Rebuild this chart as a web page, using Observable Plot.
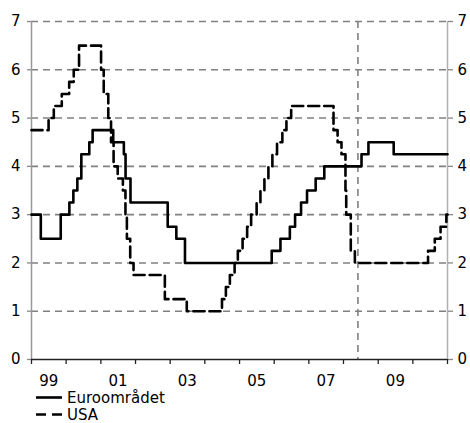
<!DOCTYPE html>
<html>
<head>
<meta charset="utf-8">
<script src="https://cdn.jsdelivr.net/npm/d3@7"></script>
<script src="https://cdn.jsdelivr.net/npm/@observablehq/plot@0.6"></script>
<style>
  body { margin: 0; background: #fff; font-family: "DejaVu Sans", Verdana, sans-serif; }
  #legend { font-size: 15px; color: #000; padding-left: 36px; }
  #legend .row { display: flex; align-items: center; height: 17px; }
  #legend span { line-height: 12px; }
  #legend svg { margin-right: 5px; }
</style>
</head>
<body>
<div id="chart"></div>
<div id="legend"></div>
<script>
const euroDates = ["1999-01-01","1999-04-09","1999-11-05","2000-02-04","2000-03-17","2000-04-28","2000-06-09","2000-09-01","2000-10-06","2001-05-11","2001-08-31","2001-09-18","2001-11-09","2002-12-06","2003-03-07","2003-06-06","2005-12-06","2006-03-08","2006-06-15","2006-08-09","2006-10-11","2006-12-13","2007-03-14","2007-06-13","2008-07-09","2008-09-20","2009-06-13","2011-01-01"];
const euroRates = [3.0,2.5,3.0,3.25,3.5,3.75,4.25,4.5,4.75,4.5,4.25,3.75,3.25,2.75,2.5,2.0,2.25,2.5,2.75,3.0,3.25,3.5,3.75,4.0,4.25,4.5,4.25,4.25];

const usaDates = ["1999-01-01","1999-06-30","1999-08-24","1999-11-16","2000-02-02","2000-03-21","2000-05-16","2001-01-03","2001-01-31","2001-03-20","2001-04-18","2001-05-15","2001-06-27","2001-08-21","2001-09-17","2001-10-02","2001-11-06","2001-12-11","2002-11-06","2003-06-25","2004-06-30","2004-08-10","2004-09-21","2004-11-10","2004-12-14","2005-02-02","2005-03-22","2005-05-03","2005-06-30","2005-08-09","2005-09-20","2005-11-01","2005-12-13","2006-01-31","2006-03-28","2006-05-10","2006-06-29","2007-09-18","2007-10-31","2007-12-11","2008-01-22","2008-01-30","2008-03-18","2008-04-30","2010-06-10","2010-08-20","2010-10-20","2010-12-20","2011-01-01"];
const usaRates = [4.75,5.0,5.25,5.5,5.75,6.0,6.5,6.0,5.5,5.0,4.5,4.0,3.75,3.5,3.0,2.5,2.0,1.75,1.25,1.0,1.25,1.5,1.75,2.0,2.25,2.5,2.75,3.0,3.25,3.5,3.75,4.0,4.25,4.5,4.75,5.0,5.25,4.75,4.5,4.25,3.5,3.0,2.25,2.0,2.25,2.5,2.75,3.0,3.0];

const seriesNames = ["Euroområdet", "USA"];
const forecastStart = "2008-06-01";
const xStart = "1999-01-01", xEnd = "2011-01-01";
const yTicks = [0,1,2,3,4,5,6,7];
const gridValues = [1,2,3,4,5,6,7];
const xTickYears = [1999,2001,2003,2005,2007,2009];
const xTickLabels = ["99","01","03","05","07","09"];

const parse = d3.utcParse("%Y-%m-%d");
const euro = euroDates.map((d, i) => ({date: parse(d), rate: euroRates[i]}));
const usa = usaDates.map((d, i) => ({date: parse(d), rate: usaRates[i]}));
const yearStarts = d3.utcYear.range(parse(xStart), d3.utcDay.offset(parse(xEnd), 1));
const labelDates = xTickYears.map(y => new Date(Date.UTC(y, 6, 1)));

const chart = Plot.plot({
  width: 470,
  height: 389,
  marginLeft: 31,
  marginRight: 23,
  marginTop: 21,
  marginBottom: 30,
  style: {fontFamily: "DejaVu Sans, Verdana, sans-serif", fontSize: "15px", color: "#000", background: "#fff"},
  x: {type: "utc", domain: [parse(xStart), parse(xEnd)]},
  y: {type: "linear", domain: [0, 7]},
  marks: [
    Plot.ruleY(gridValues, {stroke: "#808080", strokeWidth: 1.6, strokeDasharray: "7,5"}),
    Plot.ruleX([parse(forecastStart)], {stroke: "#808080", strokeWidth: 1.6, strokeDasharray: "7,5"}),
    Plot.ruleX([parse(xStart)], {stroke: "#999", strokeWidth: 1.5}),
    Plot.ruleX([parse(xEnd)], {stroke: "#b0b0b0", strokeWidth: 1.5}),
    Plot.axisY({anchor: "left", ticks: yTicks, tickSize: 4, tickPadding: 7, tickFormat: d => String(d), stroke: "#888", strokeWidth: 1.3, fill: "#000", label: null}),
    Plot.axisY({anchor: "right", ticks: yTicks, tickSize: 5, tickPadding: 5, tickFormat: d => String(d), stroke: "#888", strokeWidth: 1.3, fill: "#000", label: null}),
    Plot.ruleX(yearStarts, {y1: 0, y2: 0, insetBottom: -5, stroke: "#222", strokeWidth: 1.3}),
    Plot.axisX({ticks: labelDates, tickSize: 0, tickPadding: 16, tickFormat: (d, i) => xTickLabels[i], fill: "#000", label: null}),
    Plot.ruleY([0], {stroke: "#222", strokeWidth: 1.5}),
    Plot.line(euro, {x: "date", y: "rate", curve: "step-after", stroke: "#000", strokeWidth: 2.6}),
    Plot.line(usa, {x: "date", y: "rate", curve: "step-after", stroke: "#000", strokeWidth: 2.6, strokeDasharray: "11,5"})
  ]
});
document.getElementById("chart").appendChild(chart);

const legend = document.getElementById("legend");
[["none"], ["10,6"]].forEach((dash, i) => {
  const row = document.createElement("div");
  row.className = "row";
  row.innerHTML = `<svg width="26" height="17"><line x1="0" x2="26" y1="8.5" y2="8.5" stroke="#000" stroke-width="2.6" ${dash[0] === "none" ? "" : `stroke-dasharray="${dash[0]}"`}/></svg><span>${seriesNames[i]}</span>`;
  legend.appendChild(row);
});
</script>
</body>
</html>
